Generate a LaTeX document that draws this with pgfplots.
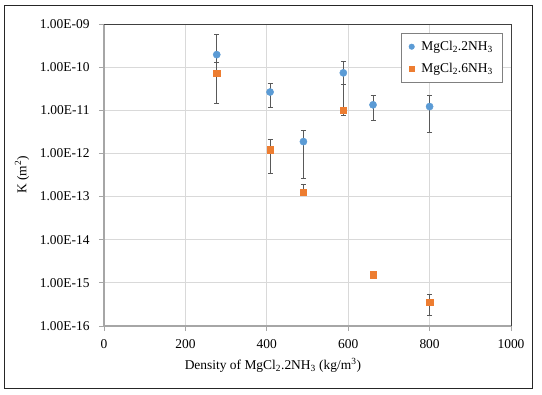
\documentclass[border=0pt]{standalone}
\usepackage{fontspec}
\setmainfont{Liberation Serif}
\usepackage{pgfplots}
\pgfplotsset{compat=1.18}
\definecolor{cblue}{HTML}{5B9BD5}
\definecolor{corange}{HTML}{ED7D31}
\definecolor{gridc}{HTML}{D9D9D9}
\definecolor{axc}{HTML}{A6A6A6}
\definecolor{errc}{HTML}{595959}
\begin{document}
\begin{tikzpicture}[font=\fontsize{13.5}{16}\selectfont]
\begin{axis}[
  scale only axis, width=407bp, height=302bp,
  xmin=0, xmax=1000, ymode=log, ymin=1e-16, ymax=1e-9,
  xtick={0,200,400,600,800,1000},
  xticklabels={0,200,400,600,800,1000},
  ytick={1e-16,1e-15,1e-14,1e-13,1e-12,1e-11,1e-10,1e-9},
  yticklabels={1.00E-16,1.00E-15,1.00E-14,1.00E-13,1.00E-12,1.00E-11,1.00E-10,1.00E-09},
  /pgf/number format/assume math mode=true,
  yminorticks=false, xminorticks=false,
  grid=major, major grid style={gridc, line width=0.8pt},
  axis line style={draw=none},
  xtick pos=bottom, ytick pos=left,
  tick align=outside, major tick length=5bp,
  tick style={axc, line width=0.8pt},
  xticklabel style={yshift=-5bp},
  yticklabel style={xshift=-6bp},
  xlabel={Density of MgCl\textsubscript{2}.2NH\textsubscript{3} (kg/m\textsuperscript{3})},
  xlabel style={at={(axis description cs:0.415,-0.129)}, anchor=center},
  ylabel={K (m\textsuperscript{2})},
  ylabel style={at={(axis description cs:-0.2015,0.5)}, anchor=center},
  clip=false,
  legend style={at={(rel axis cs:1,1)}, anchor=north east, xshift=-8bp, yshift=-9bp,
    draw=gray, line width=0.6pt, inner xsep=8bp, inner ysep=6bp, row sep=7bp, column sep=5bp,
    font=\fontsize{13.5}{16}\selectfont},
  legend image post style={mark size=2.7bp},
  legend cell align=left,
]
\draw[axc, line width=1.3pt] (rel axis cs:0,1) -- (rel axis cs:0,0) -- (rel axis cs:1,0);
\draw[black!75, line width=0.7pt] (rel axis cs:0,1) -- (rel axis cs:1,1) -- (rel axis cs:1,0);

\addplot+[only marks, mark=*, mark size=3.6bp, color=cblue, mark options={fill=cblue, draw=cblue},
  error bars/.cd, y dir=both, y explicit,
  error bar style={errc, line width=0.8pt},
  error mark options={rotate=90, mark size=2.5bp, errc, line width=0.8pt}]
coordinates {
  (277,1.95e-10) += (0,3.83e-10) -= (0,0.67e-10)
  (408,2.65e-11) += (0,1.53e-11) -= (0,1.46e-11)
  (490,1.88e-12) += (0,1.62e-12) -= (0,1.621e-12)
  (588,7.38e-11) += (0,6.42e-11) -= (0,3.48e-11)
  (661,1.34e-11) += (0,0.86e-11) -= (0,0.77e-11)
  (800,1.22e-11) += (0,0.98e-11) -= (0,0.92e-11)
};
\addlegendentry{MgCl\textsubscript{2}.2NH\textsubscript{3}}

\addplot+[only marks, mark=square*, mark size=3.2bp, color=corange, mark options={fill=corange, draw=corange},
  error bars/.cd, y dir=both, y explicit,
  error bar style={errc, line width=0.8pt},
  error mark options={rotate=90, mark size=2.5bp, errc, line width=0.8pt}]
coordinates {
  (277,7.26e-11) += (0,5.54e-11) -= (0,5.81e-11)
  (408,1.21e-12) += (0,0.85e-12) -= (0,0.872e-12)
  (490,1.25e-13) += (0,0.63e-13) -= (0,0)
  (588,1.02e-11) += (0,2.88e-11) -= (0,0.27e-11)
  (661,1.54e-15) += (0,0.26e-15) -= (0,0.27e-15)
  (800,3.6e-16) += (0,1.8e-16) -= (0,1.82e-16)
};
\addlegendentry{MgCl\textsubscript{2}.6NH\textsubscript{3}}
\end{axis}
\draw[black!85, line width=0.9pt] ([shift={(-100bp,-62bp)}]current axis.south west) rectangle ([shift={(428bp,321bp)}]current axis.south west);
\pgfresetboundingbox
\path ([shift={(-104bp,-69bp)}]current axis.south west) rectangle ([shift={(438bp,326bp)}]current axis.south west);
\end{tikzpicture}
\end{document}
